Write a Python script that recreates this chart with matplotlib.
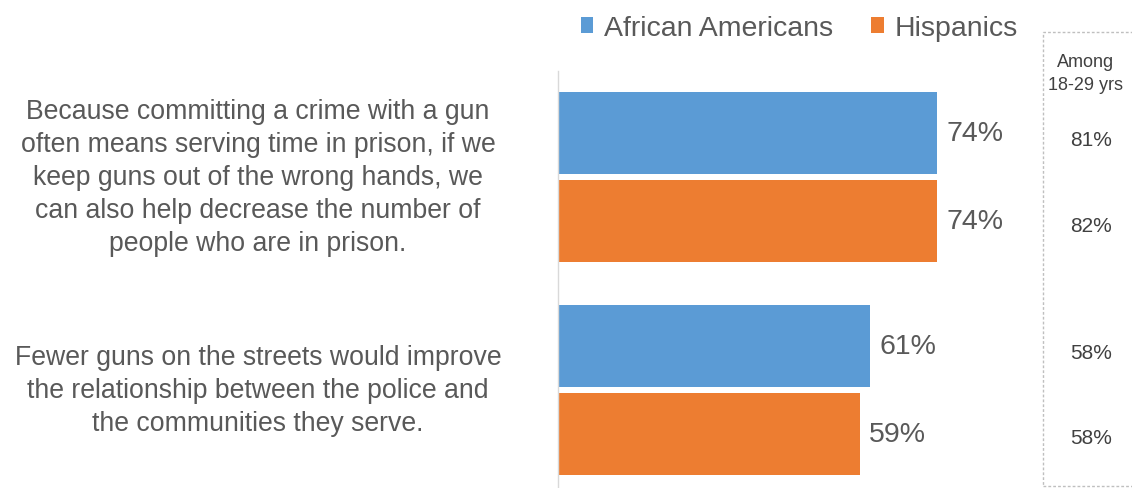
import matplotlib
matplotlib.use("Agg")
import matplotlib.pyplot as plt
from matplotlib.patches import Patch, Rectangle
from matplotlib.transforms import blended_transform_factory

plt.rcParams['font.family'] = ['Liberation Sans', 'DejaVu Sans']

categories = [
    "Because committing a crime with a gun\noften means serving time in prison, if we\nkeep guns out of the wrong hands, we\ncan also help decrease the number of\npeople who are in prison.",
    "Fewer guns on the streets would improve\nthe relationship between the police and\nthe communities they serve.",
]
series_names = ["African Americans", "Hispanics"]
african_americans = [74, 61]
hispanics = [74, 59]
young_aa = [81, 58]
young_hisp = [82, 58]
box_title = "Among\n18-29 yrs"

blue = "#5B9BD5"
orange = "#ED7D31"
label_color = "#595959"

W, H = 1132, 489
fig = plt.figure(figsize=(W / 100, H / 100), dpi=100)
ax = fig.add_axes([558 / W, (H - 497) / H, 482 / W, 425 / H])

bar_h = 0.386
off = 0.207
ys = list(range(len(categories)))
ax.barh([y - off for y in ys], african_americans, height=bar_h, color=blue)
ax.barh([y + off for y in ys], hispanics, height=bar_h, color=orange)

ax.set_xlim(0, 94.1)
ax.set_ylim(1.5, -0.5)
ax.set_xticks([])
ax.set_yticks([])
for s in ["top", "right", "bottom"]:
    ax.spines[s].set_visible(False)
ax.spines["left"].set_color("#D9D9D9")
ax.spines["left"].set_linewidth(1.0)
ax.patch.set_alpha(0)

for y, v in zip(ys, african_americans):
    ax.annotate(f"{v}%", (v, y - off), xytext=(9, 0), textcoords="offset pixels",
                ha="left", va="center", fontsize=20.5, color=label_color)
for y, v in zip(ys, hispanics):
    ax.annotate(f"{v}%", (v, y + off), xytext=(9, 0), textcoords="offset pixels",
                ha="left", va="center", fontsize=20.5, color=label_color)

tr = blended_transform_factory(fig.transFigure, ax.transData)
for y, lab in zip(ys, categories):
    ax.text(258 / W, y, lab, transform=tr, ha="center", va="center",
            fontsize=19.2, color=label_color, linespacing=1.35, clip_on=False)

# side box
for y, v in zip(ys, young_aa):
    ax.text(1091 / W, y - off + 0.03, f"{v}%", transform=tr, ha="center", va="center",
            fontsize=15, color="#404040", clip_on=False)
for y, v in zip(ys, young_hisp):
    ax.text(1091 / W, y + off + 0.02, f"{v}%", transform=tr, ha="center", va="center",
            fontsize=15, color="#404040", clip_on=False)
fig.text(1086 / W, 1 - 74 / H, box_title, ha="center", va="center",
         fontsize=13, color="#404040", linespacing=1.4)
rect = Rectangle((1043 / W, 2 / H), 100 / W, (487 - 33) / H, transform=fig.transFigure,
                 fill=False, edgecolor="#BFBFBF", linestyle=(0, (2, 1.5)), linewidth=1.0,
                 clip_on=False)
fig.add_artist(rect)

handles = [Patch(facecolor=blue, edgecolor="none"), Patch(facecolor=orange, edgecolor="none")]
fig.legend(handles, series_names, loc="center", bbox_to_anchor=(799 / W, 1 - 29 / H),
           ncol=2, frameon=False, fontsize=20.5, handlelength=0.45, handleheight=0.45,
           handletextpad=0.36, columnspacing=1.35, borderpad=0, borderaxespad=0,
           labelcolor=label_color)

fig.savefig("out.png", dpi=100)
